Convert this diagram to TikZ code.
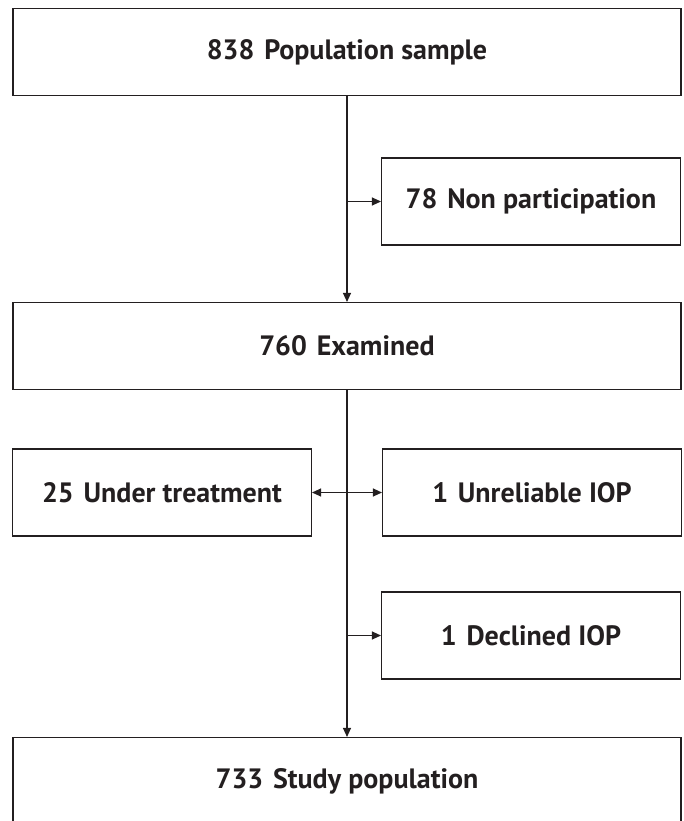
\documentclass[tikz,border=0pt]{standalone}
\usepackage{fontspec}
\setmainfont{PT Sans}
\usetikzlibrary{arrows.meta}
\definecolor{ink}{HTML}{231F20}
\begin{document}
\begin{tikzpicture}[x=1pt,y=-1pt,
  box/.style={draw=ink,line width=1.1pt,rectangle,inner sep=0pt,text=ink,
    font=\fontsize{28}{32}\selectfont\bfseries},
  wide/.style={box,minimum width=668pt,minimum height=87pt},
  side/.style={box,minimum width=299pt,minimum height=87pt},
  conn/.style={draw=ink,line width=1.1pt,-{Triangle[length=9pt,width=8pt]}},
  dconn/.style={draw=ink,line width=1.1pt,{Triangle[length=9pt,width=8pt]}-{Triangle[length=9pt,width=8pt]}}]
\useasboundingbox (0,0) rectangle (683,821);
\node[wide] (pop) at (347,52) {838\hspace{0.35em}Population sample};
\node[side] (non) at (531,201.5) {78\hspace{0.35em}Non participation};
\node[wide] (exam) at (347,346) {760\hspace{0.35em}Examined};
\node[side] (under) at (162,492.5) {25\hspace{0.35em}Under treatment};
\node[side] (unrel) at (532,492.5) {1\hspace{0.35em}Unreliable IOP};
\node[side] (decl) at (531,635.5) {1\hspace{0.35em}Declined IOP};
\node[wide] (study) at (347,781) {733\hspace{0.35em}Study population};
\draw[conn] (pop.south) -- (exam.north);
\draw[conn] (pop.south |- non.west) -- (non.west);
\draw[conn] (exam.south) -- (study.north);
\draw[dconn] (under.east) -- (unrel.west);
\draw[conn] (exam.south |- decl.west) -- (decl.west);
\end{tikzpicture}
\end{document}
